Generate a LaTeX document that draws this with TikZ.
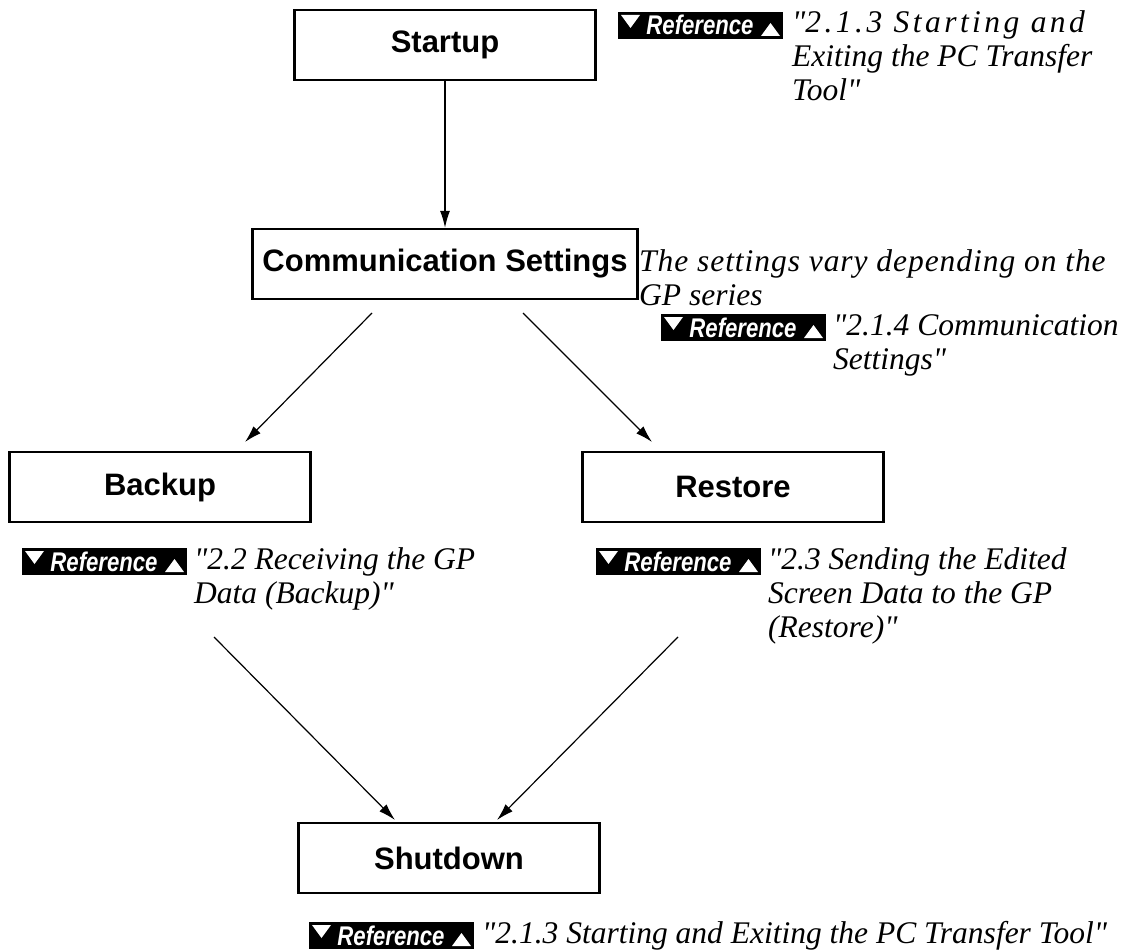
\documentclass[tikz,border=0pt]{standalone}
\usepackage{fontspec}
\setmainfont{Liberation Serif}
\newfontfamily\boxfont{Liberation Sans}
\newfontfamily\badgefont{Liberation Sans}[FakeStretch=0.82]
\usetikzlibrary{arrows.meta}
\newcommand{\qt}{\textquotedbl}

\begin{document}
\begin{tikzpicture}[x=1pt, y=-1pt,
    stepbox/.style={draw, line width=2.4pt, inner sep=0pt, minimum width=301pt, minimum height=70pt,
        font=\boxfont\fontsize{31}{34}\selectfont\bfseries},
    note/.style={anchor=base west, align=left, inner sep=0pt, font=\fontsize{31.5}{34}\selectfont\itshape},
    flow/.style={-{Latex[length=17pt,width=10pt]}, line width=1.2pt},
    refmark/.pic={
        \fill (0,0) rectangle (165,27);
        \fill[white] (3,3) -- (22,3) -- (12.5,16) -- cycle;
        \fill[white] (143,24) -- (162,24) -- (152.5,11) -- cycle;
        \node[anchor=base, text=white, inner sep=0pt, font=\badgefont\fontsize{27}{27}\selectfont\bfseries\itshape] (-txt) at (82,23) {Reference};
    }]
    \useasboundingbox (0,0) rectangle (1127,952);

    % Define coordinates
    \coordinate (c1) at (372,313);
    \coordinate (b1) at (245,442);
    \coordinate (c2) at (523,313);
    \coordinate (r1) at (652,442);
    \coordinate (b2) at (214,637);
    \coordinate (s1) at (395,820);
    \coordinate (r2) at (678,637);
    \coordinate (s2) at (497,820);

    % Steps
    \node[stepbox] (startup) at (445,45) {Startup};
    \node[stepbox, minimum width=385pt] (comm) at (445,264) {Communication Settings};
    \node[stepbox] (backup) at (160,487) {Backup};
    \node[stepbox] (restore) at (733,487) {Restore};
    \node[stepbox] (shutdown) at (449,858) {Shutdown};

    % Arrows
    \draw[flow] (startup) -- (comm);
    \draw[flow] (c1) -- (b1);
    \draw[flow] (c2) -- (r1);
    \draw[flow] (b2) -- (s1);
    \draw[flow] (r2) -- (s2);

    % Notes (anchored on the baseline of the last line)
    \pic (refstart) at (618,12) {refmark};
    \node[note] (notestart) at (792,101) {{\addfontfeature{LetterSpace=11}\qt 2.1.3 Starting and}\\Exiting the PC Transfer\\Tool\qt};

    \node[note] (notecomm) at (639,305) {{\addfontfeature{LetterSpace=3}The settings vary depending on the}\\GP series};
    \pic (refcomm) at (661,314) {refmark};
    \node[note] (linkcomm) at (833,369) {\qt 2.1.4 Communication\\Settings\qt};

    \pic (refbackup) at (22,548) {refmark};
    \node[note] (notebackup) at (194,603) {\qt 2.2 Receiving the GP\\Data (Backup)\qt};

    \pic (refrestore) at (596,548) {refmark};
    \node[note] (noterestore) at (768,637) {\qt 2.3 Sending the Edited\\Screen Data to the GP\\(Restore)\qt};

    \pic (refshut) at (309,922) {refmark};
    \node[note] (noteshut) at (482,943) {\qt 2.1.3 Starting and Exiting the PC Transfer Tool\qt};
\end{tikzpicture}
\end{document}
